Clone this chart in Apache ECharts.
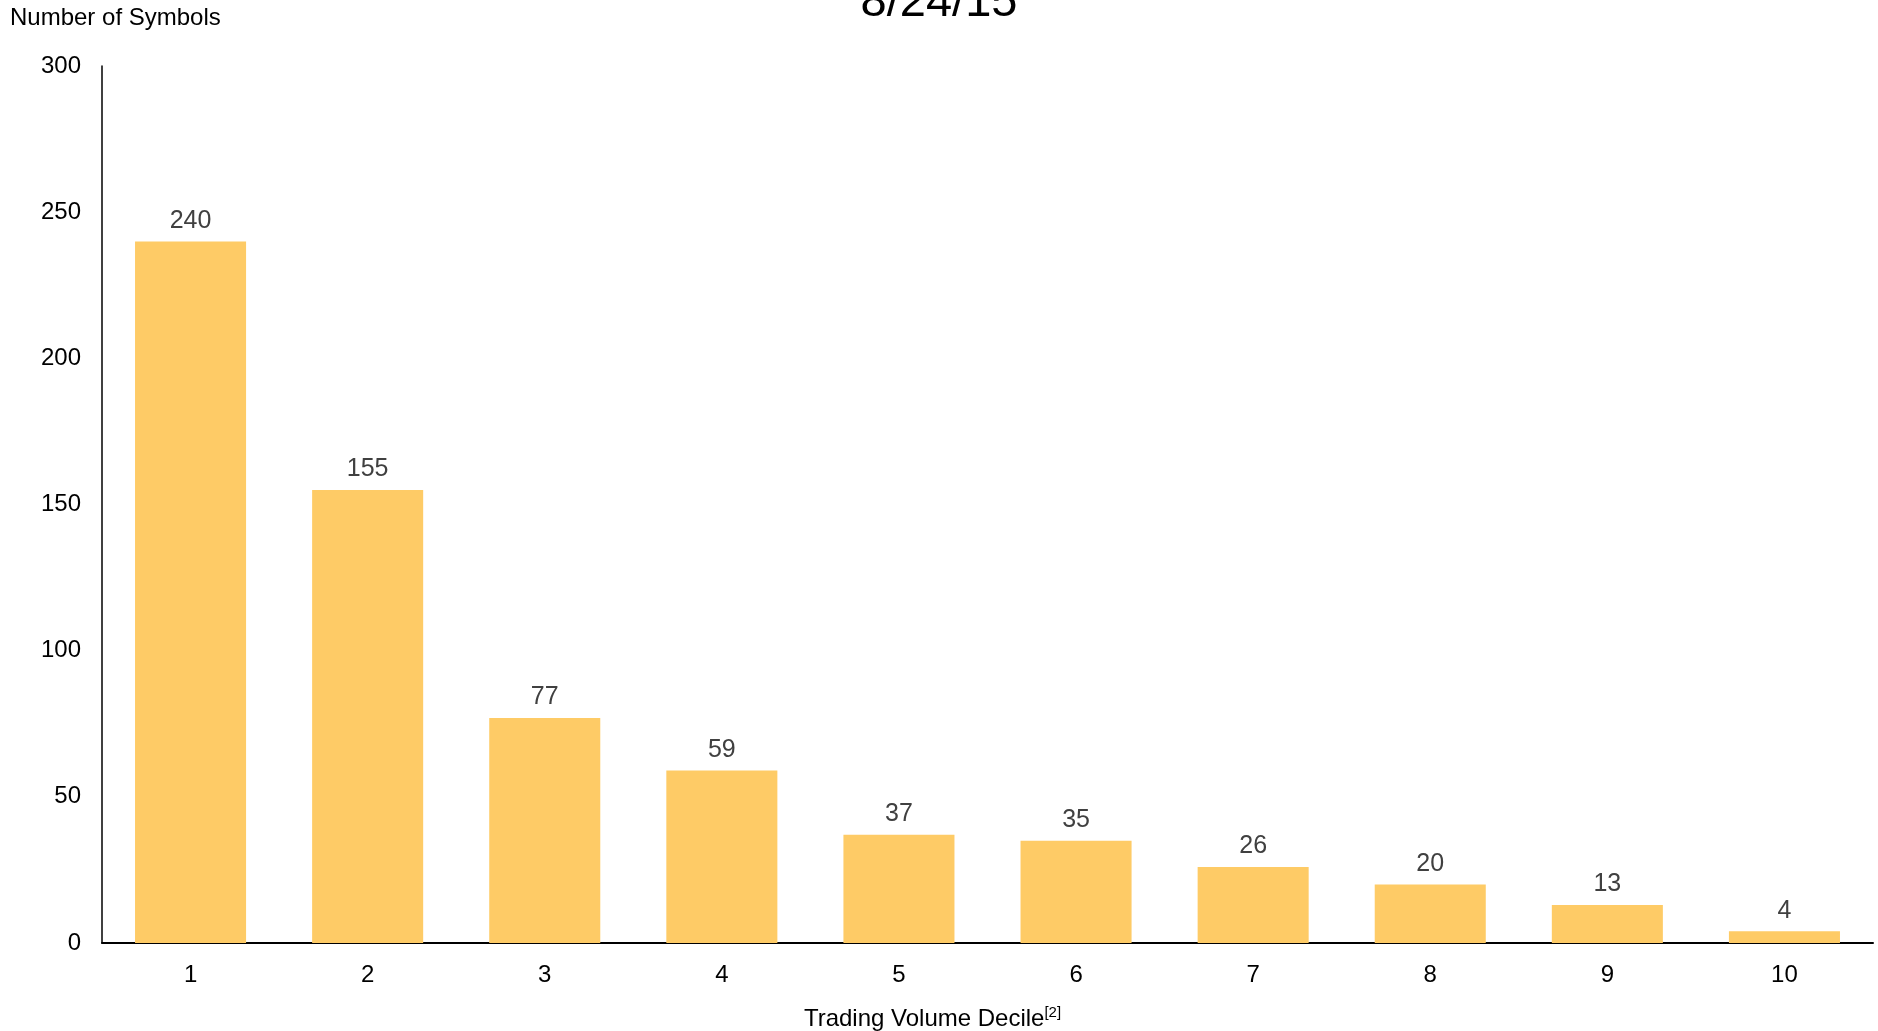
<!DOCTYPE html>
<html><head><meta charset="utf-8">
<script src="https://cdn.jsdelivr.net/npm/echarts@6/dist/echarts.min.js"></script>
<style>html,body{margin:0;padding:0;background:#fff;overflow:hidden}#c{width:1878px;height:1031px}</style>
</head><body><div id="c"></div>
<script>
var categories = ['1','2','3','4','5','6','7','8','9','10'];
var symbolCounts = [240,155,77,59,37,35,26,20,13,4];
var yTicks = {min:0, max:300, interval:50};
var chart = echarts.init(document.getElementById('c'));
chart.setOption({
  animation:false,
  title:{text:'8/24/15', left:'center', top:-25, textStyle:{fontFamily:'Liberation Sans, Arial', fontSize:47, fontWeight:'normal', color:'#000'}},
  grid:{left:102, right:5, top:66, height:877, containLabel:false, outerBoundsMode:'none'},
  xAxis:{type:'category', data:categories,
    axisLine:{lineStyle:{color:'#000', width:2}}, axisTick:{show:false},
    axisLabel:{color:'#000', fontSize:24, fontFamily:'Liberation Sans, Arial', margin:20},
    name:'{a|Trading Volume Decile}{s|[2]}', nameLocation:'middle', nameGap:62,
    nameTextStyle:{padding:[0,110,0,0], rich:{a:{fontSize:24, color:'#000', fontFamily:'Liberation Sans, Arial', verticalAlign:'bottom', lineHeight:26},
                         s:{fontSize:15, color:'#000', fontFamily:'Liberation Sans, Arial', verticalAlign:'top', lineHeight:26}}}},
  yAxis:{type:'value', min:yTicks.min, max:yTicks.max, interval:yTicks.interval,
    splitLine:{show:false}, axisTick:{show:false},
    axisLine:{show:true, lineStyle:{color:'#000', width:1.5}},
    axisLabel:{color:'#000', fontSize:24, fontFamily:'Liberation Sans, Arial', margin:21},
    name:'Number of Symbols', nameLocation:'end', nameGap:48,
    nameTextStyle:{fontSize:24, color:'#000', fontFamily:'Liberation Sans, Arial', align:'left', verticalAlign:'middle', padding:[0,0,0,-92]}},
  series:[{type:'bar', data:symbolCounts, barWidth:'62.7%',
    itemStyle:{color:'#FECB66'},
    label:{show:true, position:'top', distance:8, color:'#404040', fontSize:25, fontFamily:'Liberation Sans, Arial'}}]
});
</script></body></html>
